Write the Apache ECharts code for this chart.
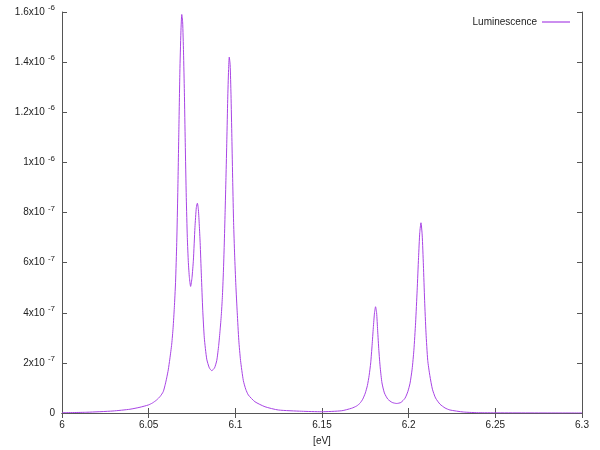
<!DOCTYPE html>
<html>
<head>
<meta charset="utf-8">
<script src="https://cdn.jsdelivr.net/npm/echarts@6/dist/echarts.min.js"></script>
<style>html,body{margin:0;padding:0;background:#fff}#c{width:600px;height:450px}</style>
</head>
<body>
<div id="c"></div>
<script>
// Photon energy [eV]
const energies = [
6.000,6.0143,6.0294,6.0392,6.0450,6.0498,6.0522,6.0546,6.0566,6.0584,6.0596,6.0604,6.0613,6.0622,6.0633,6.0641,6.0648,6.0655,6.0662,6.0668,6.0674,6.0680,6.0686,6.0691,6.0696,6.0701,6.0706,6.0711,6.0717,6.0723,6.0729,6.0735,6.0742,6.0750,6.0758,6.0767,6.0775,6.0781,6.0787,6.0792,6.0797,6.0804,6.0812,6.0821,6.0835,6.0850,6.0864,6.0880,6.0893,6.0904,6.0912,6.0919,6.0925,6.0931,6.0936,6.0941,6.0946,6.0951,6.0956,6.0961,6.0965,6.0970,6.0975,6.0980,6.0985,6.0990,6.0996,6.1003,6.1011,6.1020,6.1030,6.1046,6.1060,6.1075,6.1113,6.1171,6.1248,6.1383,6.1498,6.1614,6.1671,6.1700,6.1719,6.1735,6.1750,6.1762,6.1772,6.1781,6.1789,6.1796,6.1803,6.1809,6.1815,6.1821,6.1828,6.1836,6.1846,6.1860,6.1880,6.1905,6.1931,6.1955,6.1979,6.1995,6.2008,6.2020,6.2030,6.2040,6.2049,6.2057,6.2064,6.2071,6.2078,6.2085,6.2092,6.2100,6.2110,6.2122,6.2137,6.2155,6.2181,6.2210,6.2238,6.2315,6.2412,6.3000
];
// Luminescence in units of 1e-7
const luminescence = [
0.01,0.03,0.08,0.15,0.23,0.32,0.40,0.52,0.66,0.85,1.15,1.40,1.72,2.15,2.75,3.4,4.2,5.2,6.8,8.8,11.2,13.6,15.2,15.9,15.6,14.4,12.8,10.8,8.6,7.0,6.0,5.4,5.05,5.4,6.1,7.4,8.2,8.37,8.1,7.5,6.8,5.5,4.1,3.0,2.15,1.8,1.69,1.8,2.1,2.7,3.3,3.9,4.6,5.6,6.7,8.0,9.4,10.9,12.5,13.7,14.2,13.9,12.7,11.0,9.2,7.6,6.3,5.1,4.0,2.9,2.1,1.3,0.95,0.72,0.45,0.25,0.12,0.07,0.05,0.09,0.19,0.28,0.39,0.55,0.8,1.1,1.5,2.0,2.7,3.4,4.0,4.24,4.0,3.3,2.5,1.8,1.2,0.8,0.55,0.42,0.38,0.42,0.59,0.85,1.19,1.75,2.5,3.6,4.9,6.2,7.2,7.59,7.1,5.9,4.5,3.2,2.1,1.5,0.95,0.6,0.35,0.2,0.12,0.04,0.01,0.0
];
const seriesName = 'Luminescence';
const xAxisTitle = '[eV]';
const xTicks = {min: 6, max: 6.3, interval: 0.05};
const yTicks = {min: 0, max: 16, interval: 2};

const fontFamily = '"Liberation Sans", Arial, sans-serif';
const fontSize = 10;
const frameColor = '#555';
const textColor = '#222';
const lineColor = '#a844e4';

function yLabel(v) {
  if (v === 0) return '0';
  let m, e;
  if (v >= 10) { m = v / 10; e = -6; } else { m = v; e = -7; }
  m = Math.round(m * 100) / 100;
  return '{b|' + m + 'x10}{s|' + e + '}';
}
function xLabel(v) {
  return String(Math.round(v * 1000) / 1000);
}

const chart = echarts.init(document.getElementById('c'), null, {renderer: 'canvas'});
const axisCommon = {
  axisLine: {show: true, lineStyle: {color: frameColor, width: 1}},
  axisTick: {show: true, inside: true, length: 5, lineStyle: {color: frameColor}},
  splitLine: {show: false}
};
chart.setOption({
  animation: false,
  backgroundColor: '#fff',
  grid: {left: 62, right: 18, top: 12, bottom: 37, containLabel: false, outerBoundsMode: 'none'},
  legend: {
    data: [{name: seriesName, icon: 'rect', itemStyle: {color: lineColor, borderWidth: 0}}],
    right: 30, top: 17,
    padding: 0,
    align: 'right',
    itemWidth: 28, itemHeight: 1.2,
    itemGap: 0,
    textStyle: {fontFamily: fontFamily, fontSize: fontSize, color: textColor}
  },
  xAxis: [
    Object.assign({
      type: 'value', position: 'bottom',
      min: xTicks.min, max: xTicks.max, interval: xTicks.interval,
      name: xAxisTitle, nameLocation: 'middle', nameGap: 23,
      nameTextStyle: {fontFamily: fontFamily, fontSize: fontSize, color: textColor},
      axisLabel: {formatter: xLabel, margin: 7, fontFamily: fontFamily, fontSize: fontSize, color: textColor}
    }, axisCommon),
    Object.assign({
      type: 'value', position: 'top',
      min: xTicks.min, max: xTicks.max, interval: xTicks.interval,
      axisLabel: {show: false}
    }, axisCommon)
  ],
  yAxis: [
    Object.assign({
      type: 'value', position: 'left',
      min: yTicks.min, max: yTicks.max, interval: yTicks.interval,
      axisLabel: {
        formatter: yLabel, margin: 7, fontFamily: fontFamily, fontSize: fontSize, color: textColor,
        rich: {
          b: {fontFamily: fontFamily, fontSize: fontSize, color: textColor},
          s: {fontFamily: fontFamily, fontSize: 8, color: textColor, padding: [0, 0, 8, 3]}
        }
      }
    }, axisCommon),
    Object.assign({
      type: 'value', position: 'right',
      min: yTicks.min, max: yTicks.max, interval: yTicks.interval,
      axisLabel: {show: false}
    }, axisCommon)
  ],
  series: [{
    name: seriesName,
    type: 'line',
    xAxisIndex: 0, yAxisIndex: 0,
    data: energies.map((e, i) => [e, luminescence[i]]),
    showSymbol: false,
    smooth: 0.2,
    lineStyle: {color: lineColor, width: 1},
    itemStyle: {color: lineColor}
  }]
});
</script>
</body>
</html>
